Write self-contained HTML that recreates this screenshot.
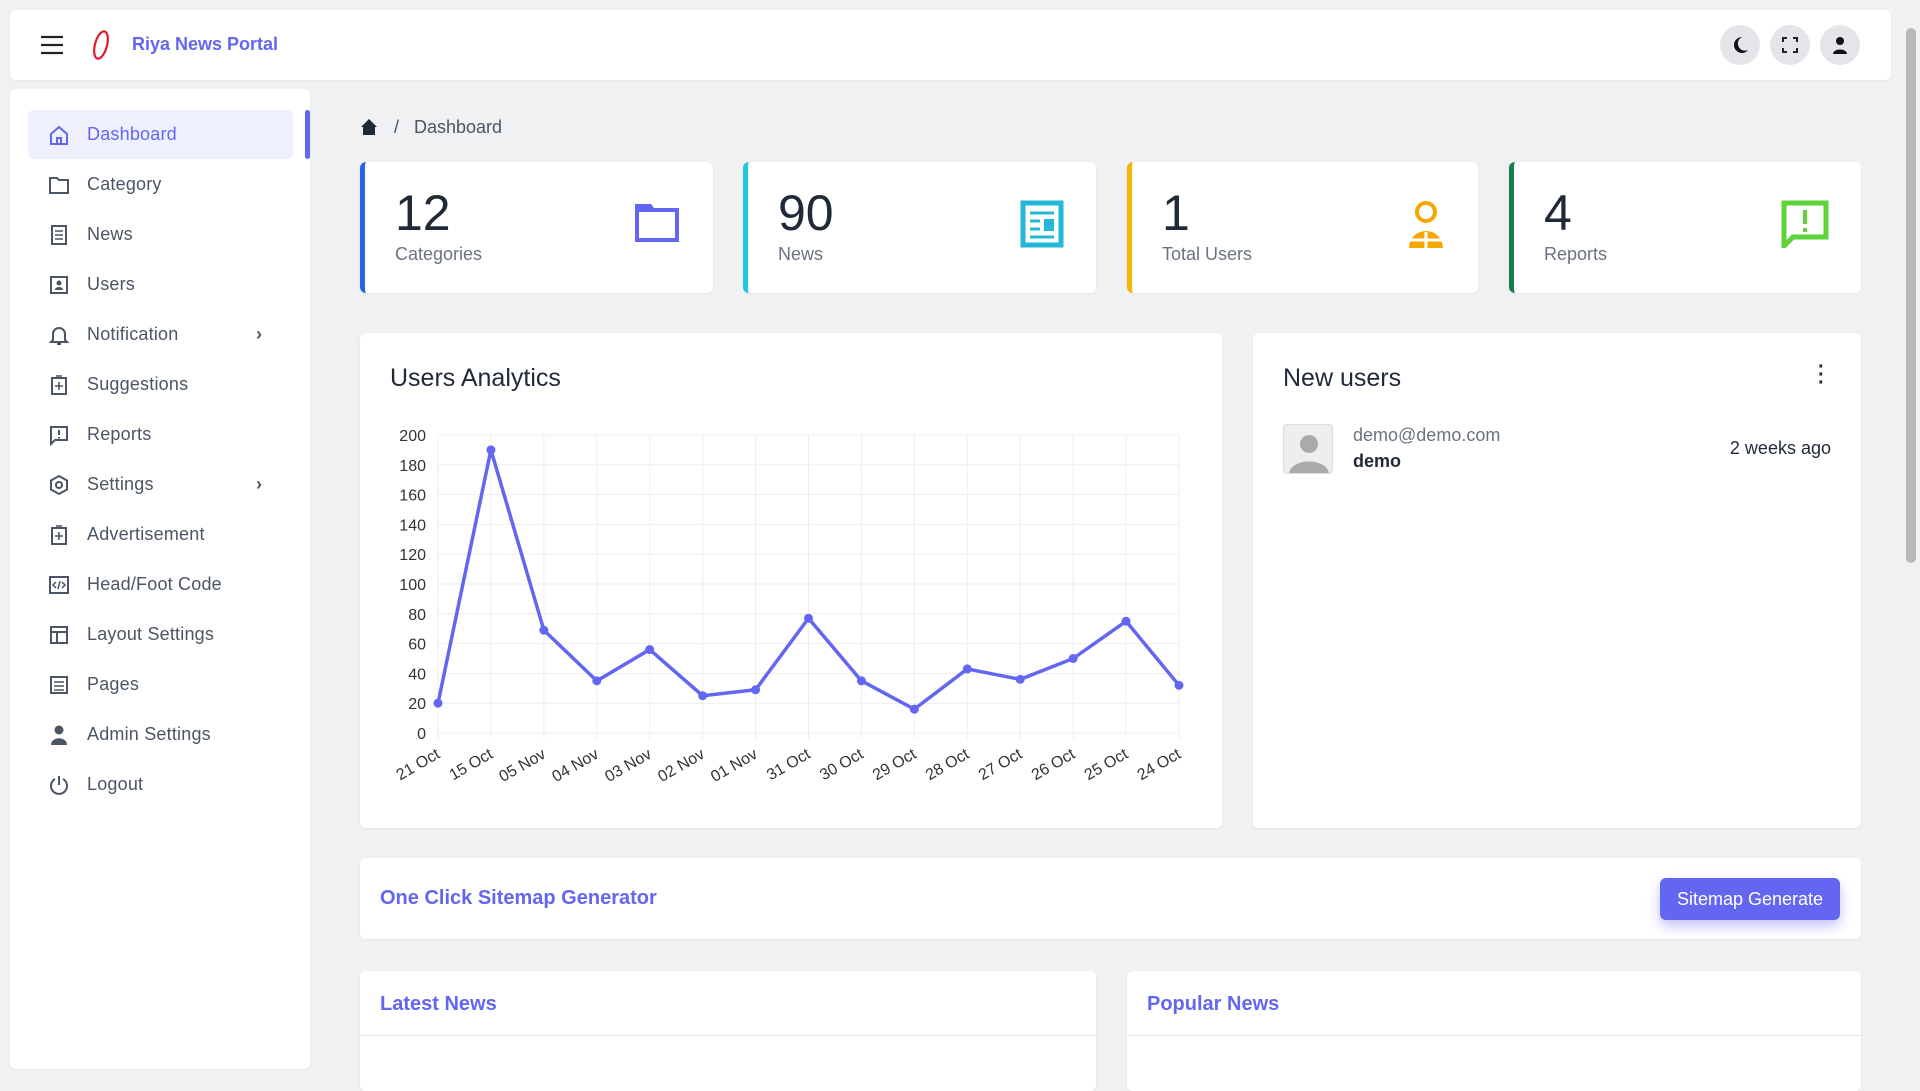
<!DOCTYPE html>
<html><head><meta charset="utf-8">
<style>
*{box-sizing:border-box;margin:0;padding:0}
body{width:1920px;height:1080px;overflow:hidden;background:#f0f1f3;font-family:"Liberation Sans",sans-serif;position:relative;color:#1f2937}
.abs{position:absolute}
.card{position:absolute;background:#fff;border-radius:6px;box-shadow:0 1px 3px rgba(0,0,0,.05)}
.menu{position:absolute;left:28px;width:265px;height:49px;display:flex;align-items:center;font-size:18px;color:#4b5563;letter-spacing:.2px}
.menu svg{position:absolute;left:20px}
.menu span{position:absolute;left:59px}
.chev{position:absolute;left:228px;font-size:18px;color:#555}
.stat .num{position:absolute;left:30px;top:22px;font-size:50px;color:#1f2937;font-weight:300}
.stat .lbl{position:absolute;left:30px;top:82px;font-size:18px;color:#6b7280}
.stat svg{position:absolute;right:32px;top:38px}
.hbtn{position:absolute;top:15px;width:40px;height:40px;border-radius:50%;background:#e3e5e8;display:flex;align-items:center;justify-content:center}
</style></head><body>
<div class="card" style="left:10px;top:10px;width:1881px;height:70px">
  <svg class="abs" style="left:30px;top:24px" width="24" height="22"><path d="M1 3h22M1 11h22M1 19h22" stroke="#222" stroke-width="2.2"/></svg>
  <svg class="abs" style="left:80px;top:18px" width="22" height="34"><ellipse cx="11" cy="17" rx="6" ry="14" transform="rotate(15 11 17)" fill="none" stroke="#e11d2a" stroke-width="2.2"/></svg>
  <div class="abs" style="left:122px;top:24px;font-size:18px;font-weight:bold;color:#6366f1">Riya News Portal</div>
  <div class="hbtn" style="left:1710px"><svg width="18" height="18"><path d="M11 1a8 8 0 100 16 8 8 0 006-3A7 7 0 0111 1z" fill="#111"/></svg></div>
  <div class="hbtn" style="left:1760px"><svg width="16" height="16"><path d="M1 5V1h4M11 1h4v4M15 11v4h-4M5 15H1v-4" stroke="#222" stroke-width="2" fill="none"/></svg></div>
  <div class="hbtn" style="left:1810px"><svg width="16" height="18"><circle cx="8" cy="5" r="4" fill="#111"/><path d="M1 18c0-6 14-6 14 0z" fill="#111"/></svg></div>
</div>
<div class="abs" style="left:1902px;top:0;width:18px;height:1080px;background:#f1f1f1"><div style="position:absolute;left:4px;top:28px;width:10px;height:535px;background:#b8b8b8;border-radius:5px"></div></div>
<div class="card" style="left:10px;top:89px;width:300px;height:980px"></div>
<div class="abs" style="left:305px;top:110px;width:5px;height:49px;background:#6366f1;border-radius:3px"></div>
<div class="menu" style="top:110px;background:#eef0fe;border-radius:6px;color:#6366f1"><svg width="22" height="22"><path d="M3 10L11 3l8 7v10H3z M9 20v-6h4v6" fill="none" stroke="#6366f1" stroke-width="2"/></svg><span>Dashboard</span></div>
<div class="menu" style="top:160px"><svg width="22" height="22"><path d="M2 4h7l2 2h9v13H2z" fill="none" stroke="#4b5563" stroke-width="2"/></svg><span>Category</span></div>
<div class="menu" style="top:210px"><svg width="22" height="22"><rect x="4" y="2" width="14" height="18" fill="none" stroke="#4b5563" stroke-width="2"/><path d="M7 7h8M7 11h8M7 15h8" stroke="#4b5563" stroke-width="1.6"/></svg><span>News</span></div>
<div class="menu" style="top:260px"><svg width="22" height="22"><rect x="3" y="3" width="16" height="16" fill="none" stroke="#4b5563" stroke-width="2"/><circle cx="11" cy="9" r="2.5" fill="#4b5563"/><path d="M7 16c0-4 8-4 8 0z" fill="#4b5563"/></svg><span>Users</span></div>
<div class="menu" style="top:310px"><svg width="22" height="22"><path d="M5 16V10a6 6 0 0112 0v6l2 2H3z M9 20h4" fill="none" stroke="#4b5563" stroke-width="2"/></svg><span>Notification</span><b class="chev">›</b></div>
<div class="menu" style="top:360px"><svg width="22" height="22"><rect x="4" y="4" width="14" height="16" fill="none" stroke="#4b5563" stroke-width="2"/><path d="M11 8v8M7 12h8M8 2h6" stroke="#4b5563" stroke-width="1.6"/></svg><span>Suggestions</span></div>
<div class="menu" style="top:410px"><svg width="22" height="22"><path d="M3 3h16v13H7l-4 4z" fill="none" stroke="#4b5563" stroke-width="2"/><path d="M11 6v5M11 13v1.5" stroke="#4b5563" stroke-width="2"/></svg><span>Reports</span></div>
<div class="menu" style="top:460px"><svg width="22" height="22"><path d="M11 2l8 4.5v9L11 20l-8-4.5v-9z" fill="none" stroke="#4b5563" stroke-width="2"/><circle cx="11" cy="11" r="3" fill="none" stroke="#4b5563" stroke-width="2"/></svg><span>Settings</span><b class="chev">›</b></div>
<div class="menu" style="top:510px"><svg width="22" height="22"><rect x="4" y="4" width="14" height="16" fill="none" stroke="#4b5563" stroke-width="2"/><path d="M11 8v8M7 12h8M8 2h6" stroke="#4b5563" stroke-width="1.6"/></svg><span>Advertisement</span></div>
<div class="menu" style="top:560px"><svg width="22" height="22"><rect x="2" y="3" width="18" height="16" fill="none" stroke="#4b5563" stroke-width="2"/><path d="M8 8l-3 3 3 3M14 8l3 3-3 3M12 7l-2 8" fill="none" stroke="#4b5563" stroke-width="1.5"/></svg><span>Head/Foot Code</span></div>
<div class="menu" style="top:610px"><svg width="22" height="22"><rect x="3" y="3" width="16" height="16" fill="none" stroke="#4b5563" stroke-width="2"/><path d="M3 8h16M9 8v11" stroke="#4b5563" stroke-width="2"/></svg><span>Layout Settings</span></div>
<div class="menu" style="top:660px"><svg width="22" height="22"><rect x="3" y="3" width="16" height="16" fill="none" stroke="#4b5563" stroke-width="2"/><path d="M6 8h10M6 12h10M6 16h10" stroke="#4b5563" stroke-width="1.6"/></svg><span>Pages</span></div>
<div class="menu" style="top:710px"><svg width="22" height="22"><circle cx="11" cy="6" r="4.5" fill="#4b5563"/><path d="M3 21c0-9 16-9 16 0z" fill="#4b5563"/></svg><span>Admin Settings</span></div>
<div class="menu" style="top:760px"><svg width="22" height="22"><path d="M7 5a8 8 0 108 0" fill="none" stroke="#4b5563" stroke-width="2"/><path d="M11 2v9" stroke="#4b5563" stroke-width="2"/></svg><span>Logout</span></div>
<svg class="abs" style="left:360px;top:118px" width="18" height="18"><path d="M9 1L1 9h2v8h12V9h2z" fill="#1f2937"/></svg>
<div class="abs" style="left:394px;top:117px;font-size:18px;color:#4b5563">/&nbsp;&nbsp;&nbsp;Dashboard</div>
<div class="card stat" style="left:360px;top:162px;width:353px;height:131px;border-left:5px solid #2563eb"><div class="num">12</div><div class="lbl">Categories</div><svg width="48" height="44"><path d="M2 4h16l3 4h25v34H2z" fill="#6366f1"/><rect x="6" y="12" width="36" height="26" fill="#fff"/></svg></div>
<div class="card stat" style="left:743px;top:162px;width:353px;height:131px;border-left:5px solid #22c5e0"><div class="num">90</div><div class="lbl">News</div><svg width="44" height="48"><rect x="3" y="3" width="38" height="42" fill="none" stroke="#22b8d8" stroke-width="5"/><path d="M10 13h24M10 21h10M10 29h10M10 37h24" stroke="#22b8d8" stroke-width="3"/><rect x="24" y="19" width="10" height="12" fill="#22b8d8"/></svg></div>
<div class="card stat" style="left:1127px;top:162px;width:351px;height:131px;border-left:5px solid #f5b400"><div class="num">1</div><div class="lbl">Total Users</div><svg width="40" height="50"><circle cx="20" cy="12" r="9" fill="none" stroke="#f5a700" stroke-width="4"/><path d="M3 48a17 17 0 0134 0z" fill="#f5a700"/><path d="M3 40h34M20 32v16" stroke="#fff" stroke-width="3"/></svg></div>
<div class="card stat" style="left:1509px;top:162px;width:352px;height:131px;border-left:5px solid #16804a"><div class="num">4</div><div class="lbl">Reports</div><svg width="48" height="48"><path d="M3 3h42v34H12l-9 9z" fill="none" stroke="#5fd33a" stroke-width="5"/><path d="M24 10v14M24 28v4" stroke="#5fd33a" stroke-width="4"/></svg></div>
<div class="card" style="left:360px;top:333px;width:862px;height:495px">
  <div class="abs" style="left:30px;top:31px;font-size:25px;color:#1f2937">Users Analytics</div>
  <svg id="chart" class="abs" style="left:0;top:0" width="862" height="495"></svg>
</div>
<div class="card" style="left:1253px;top:333px;width:608px;height:495px">
  <div class="abs" style="left:30px;top:31px;font-size:25px;color:#1f2937">New users</div>
  <div class="abs" style="left:565px;top:30px;font-size:20px;font-weight:bold;line-height:8px">·<br>·<br>·</div>
  <div class="abs" style="left:30px;top:91px;width:50px;height:50px;border:1px solid #ddd;border-radius:4px;background:#eee;overflow:hidden"><svg width="50" height="50"><circle cx="25" cy="19" r="9" fill="#aaa"/><path d="M5 50c0-18 40-18 40 0z" fill="#aaa"/></svg></div>
  <div class="abs" style="left:100px;top:92px;font-size:18px;color:#6b7280">demo@demo.com</div>
  <div class="abs" style="left:100px;top:118px;font-size:18px;font-weight:bold;color:#1f2937">demo</div>
  <div class="abs" style="right:30px;top:105px;font-size:18px;color:#1f2937">2 weeks ago</div>
</div>
<div class="card" style="left:360px;top:858px;width:1501px;height:81px">
  <div class="abs" style="left:20px;top:29px;font-size:20px;font-weight:bold;color:#6366f1">One Click Sitemap Generator</div>
  <div class="abs" style="left:1300px;top:20px;width:180px;height:42px;background:#6366f1;border-radius:6px;color:#fff;font-size:18px;display:flex;align-items:center;justify-content:center;box-shadow:0 6px 12px rgba(99,102,241,.4)">Sitemap Generate</div>
</div>
<div class="card" style="left:360px;top:971px;width:736px;height:120px">
  <div class="abs" style="left:20px;top:22px;font-size:20px;font-weight:bold;color:#6366f1">Latest News</div>
  <div class="abs" style="left:0;top:64px;width:100%;height:1px;background:#e5e7eb"></div>
</div>
<div class="card" style="left:1127px;top:971px;width:734px;height:120px">
  <div class="abs" style="left:20px;top:22px;font-size:20px;font-weight:bold;color:#6366f1">Popular News</div>
  <div class="abs" style="left:0;top:64px;width:100%;height:1px;background:#e5e7eb"></div>
</div>
<script>
const categories=["21 Oct","15 Oct","05 Nov","04 Nov","03 Nov","02 Nov","01 Nov","31 Oct","30 Oct","29 Oct","28 Oct","27 Oct","26 Oct","25 Oct","24 Oct"];
const users=[20,190,69,35,56,25,29,77,35,16,43,36,50,75,32];
const yTicks=[0,20,40,60,80,100,120,140,160,180,200];
const NS="http://www.w3.org/2000/svg";
const svg=document.getElementById('chart');
const X0=78,X1=819,YT=102,YB=400,YMAX=200;
function xs(i){return X0+(X1-X0)*i/(categories.length-1);}
function ys(v){return YB-(YB-YT)*v/YMAX;}
function mk(t,a){const e=document.createElementNS(NS,t);for(const k in a)e.setAttribute(k,a[k]);svg.appendChild(e);return e;}
yTicks.forEach(v=>{
  const l=mk('line',{x1:X0,x2:X1,y1:ys(v),y2:ys(v),stroke:'#eeeeee'});
  
  
  const t=mk('text',{x:X0-12,y:ys(v)+6,'text-anchor':'end','font-size':'16','fill':'#333','font-family':'Liberation Sans, sans-serif'});
  t.textContent=v;
  
  
});
categories.forEach((c,i)=>{
  const l=mk('line',{x1:xs(i),x2:xs(i),y1:YT,y2:YB+6,stroke:'#eeeeee'});
  
  
  const t=mk('text',{x:xs(i)+3,y:YB+24,'text-anchor':'end','font-size':'16','fill':'#333','font-family':'Liberation Sans, sans-serif',transform:`rotate(-30 ${xs(i)+3} ${YB+24})`});
  t.textContent=c;
  
  
});
const p=mk('polyline',{points:users.map((v,i)=>xs(i)+','+ys(v)).join(' '),fill:'none',stroke:'#6366f1','stroke-width':3.5,'stroke-linejoin':'round'});


users.forEach((v,i)=>{
  const c=mk('circle',{cx:xs(i),cy:ys(v),r:4.5,fill:'#6366f1'});
  
  
});
</script>
</body></html>
